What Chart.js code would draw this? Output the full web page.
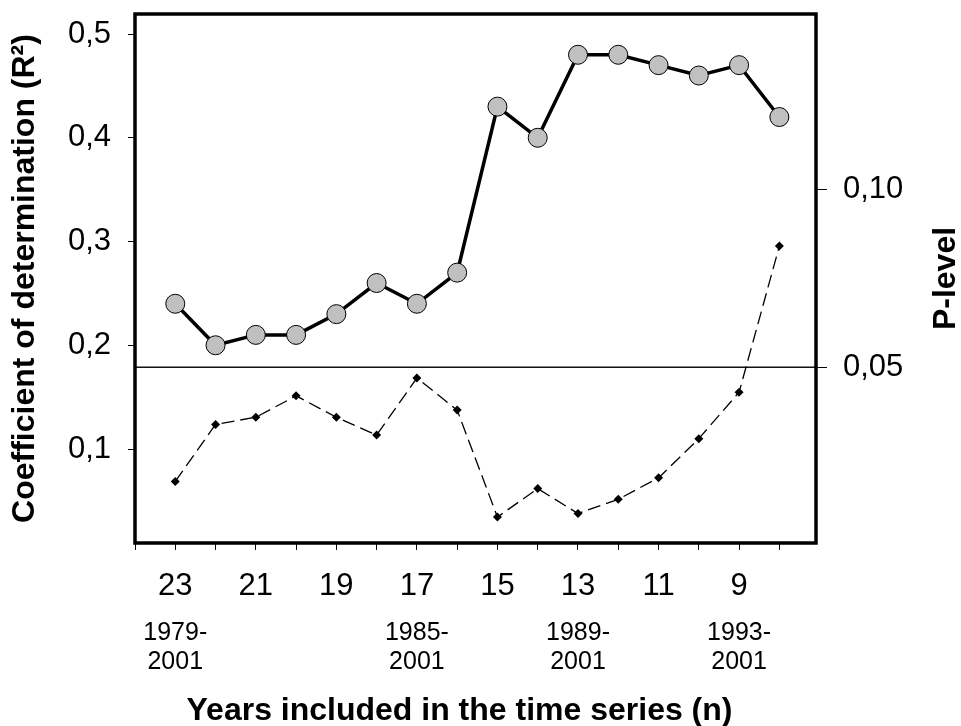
<!DOCTYPE html>
<html><head><meta charset="utf-8">
<script src="https://cdn.jsdelivr.net/npm/chart.js@4.4.1/dist/chart.umd.min.js"></script>
<style>html,body{margin:0;padding:0;background:#fff}#wrap{position:relative;width:961px;height:726px}</style>
</head><body><div id="wrap"><canvas id="c"></canvas></div>
<script>
// ---- data ----
const yearsIncluded = [23, 22, 21, 20, 19, 18, 17, 16, 15, 14, 13, 12, 11, 10, 9, 8];
const r2Values = [0.24, 0.20, 0.21, 0.21, 0.23, 0.26, 0.24, 0.27, 0.43, 0.40, 0.48, 0.48, 0.47, 0.46, 0.47, 0.42];
const pLevelValues = [0.018, 0.034, 0.036, 0.042, 0.036, 0.031, 0.047, 0.038, 0.008, 0.016, 0.009, 0.013, 0.019, 0.030, 0.043, 0.084];
const significanceLevel = 0.05;
const r2TickValues = [0.1, 0.2, 0.3, 0.4, 0.5];
const pTickValues = [0.05, 0.10];
const nTickValues = [24, 23, 22, 21, 20, 19, 18, 17, 16, 15, 14, 13, 12, 11, 10, 9, 8];
const nLabelValues = [23, 21, 19, 17, 15, 13, 11, 9];
const periodTickValues = [23, 17, 13, 9];
const periodLabels = [['1979-', '2001'], ['1985-', '2001'], ['1989-', '2001'], ['1993-', '2001']];
const yTitle = 'Coefficient of determination (R\u00B2)';
const y2Title = 'P-level';
const xTitle = 'Years included in the time series (n)';

Chart.defaults.font.family = "'Liberation Sans', Arial, sans-serif";
Chart.defaults.color = '#000';

const FONT = "'Liberation Sans', Arial, sans-serif";

const framePlugin = {
  id: 'frame',
  beforeDatasetsDraw(chart) {
    const {ctx, chartArea: a, scales} = chart;
    const y = scales.y2.getPixelForValue(significanceLevel);
    ctx.save();
    ctx.strokeStyle = '#111';
    ctx.lineWidth = 1.5;
    ctx.beginPath();
    ctx.moveTo(a.left, y);
    ctx.lineTo(a.right, y);
    ctx.stroke();
    ctx.restore();
  },
  afterDatasetsDraw(chart) {
    const {ctx, chartArea: a} = chart;
    ctx.save();
    ctx.strokeStyle = '#000';
    ctx.lineWidth = 3.5;
    ctx.strokeRect(a.left, a.top, a.right - a.left, a.bottom - a.top);
    ctx.restore();
  },
  afterDraw(chart) {
    const {ctx, chartArea: a} = chart;
    ctx.save();
    ctx.font = 'bold 32px ' + FONT;
    ctx.fillStyle = '#000';
    ctx.textAlign = 'center';
    ctx.textBaseline = 'middle';
    // right axis title, reading bottom-to-top
    ctx.save();
    ctx.translate(946, (a.top + a.bottom) / 2);
    ctx.rotate(-Math.PI / 2);
    ctx.fillText(y2Title, 0, 0);
    ctx.restore();
    // x axis title
    ctx.fillText(xTitle, (a.left + a.right) / 2 - 16, 711);
    ctx.restore();
  }
};

const r2Data = yearsIncluded.map((n, i) => ({x: n, y: r2Values[i]}));
const pData = yearsIncluded.map((n, i) => ({x: n, y: pLevelValues[i]}));

function noPad(s) { s.paddingTop = 0; s.paddingBottom = 0; s.paddingLeft = 0; s.paddingRight = 0; }

new Chart(document.getElementById('c'), {
  type: 'line',
  data: {
    datasets: [
      {
        label: 'R2',
        data: r2Data,
        yAxisID: 'y',
        xAxisID: 'x',
        borderColor: '#000',
        borderWidth: 3.5,
        pointRadius: 9.5,
        pointBackgroundColor: '#c0c0c0',
        pointBorderColor: '#000',
        pointBorderWidth: 1,
        tension: 0,
        order: 1
      },
      {
        label: 'P',
        data: pData,
        yAxisID: 'y2',
        xAxisID: 'x',
        borderColor: '#000',
        borderWidth: 1.3,
        borderDash: [13, 6],
        pointStyle: 'rectRot',
        pointRadius: 4.5,
        pointBackgroundColor: '#000',
        pointBorderColor: '#000',
        pointBorderWidth: 0,
        tension: 0,
        order: 2
      }
    ]
  },
  options: {
    responsive: true,
    maintainAspectRatio: false,
    animation: false,
    devicePixelRatio: 1,
    layout: {padding: {top: 14, left: 0, right: 0, bottom: 0}},
    plugins: {legend: {display: false}, tooltip: {enabled: false}},
    scales: {
      x: {
        type: 'linear',
        position: 'bottom',
        weight: 1,
        reverse: true,
        min: 7.09,
        max: 24,
        afterBuildTicks: s => { s.ticks = nTickValues.map(v => ({value: v})); },
        afterFit: s => { s.height = 60; noPad(s); },
        grid: {drawOnChartArea: false, drawTicks: true, tickLength: 7, tickColor: '#000', tickWidth: 1},
        border: {display: false},
        ticks: {
          autoSkip: false, maxRotation: 0, minRotation: 0, padding: 18,
          font: {size: 31, lineHeight: 1.2},
          callback: v => nLabelValues.includes(v) ? String(v) : ''
        }
      },
      x2: {
        type: 'linear',
        position: 'bottom',
        weight: 2,
        reverse: true,
        min: 7.09,
        max: 24,
        afterBuildTicks: s => { s.ticks = periodTickValues.map(v => ({value: v})); },
        afterFit: s => { s.height = 123; noPad(s); },
        grid: {display: false, drawTicks: false, drawOnChartArea: false},
        border: {display: false},
        ticks: {
          autoSkip: false, maxRotation: 0, minRotation: 0, padding: 16,
          font: {size: 25, lineHeight: 1.14},
          callback: v => { const i = periodTickValues.indexOf(v); return i >= 0 ? periodLabels[i] : ''; }
        }
      },
      y: {
        type: 'linear',
        position: 'left',
        min: 0.0094,
        max: 0.5193,
        afterBuildTicks: s => { s.ticks = r2TickValues.map(v => ({value: v})); },
        afterFit: s => { s.width = 135; noPad(s); },
        grid: {drawOnChartArea: false, drawTicks: true, tickLength: 7, tickColor: '#000', tickWidth: 1},
        border: {display: false},
        ticks: {padding: 17, font: {size: 31, lineHeight: 1.2}, callback: v => v.toFixed(1).replace('.', ',')},
        title: {display: true, text: yTitle, font: {size: 32, weight: 'bold', lineHeight: 1}, padding: {top: 9, bottom: 0}}
      },
      y2: {
        type: 'linear',
        position: 'right',
        min: 0.00073,
        max: 0.1491,
        afterBuildTicks: s => { s.ticks = pTickValues.map(v => ({value: v})); },
        afterFit: s => { s.width = 145; noPad(s); },
        grid: {drawOnChartArea: false, drawTicks: true, tickLength: 11, tickColor: '#000', tickWidth: 1},
        border: {display: false},
        ticks: {padding: 16, font: {size: 31, lineHeight: 1.2}, callback: v => v.toFixed(2).replace('.', ',')}
      }
    }
  },
  plugins: [framePlugin]
});
</script>
</body></html>
